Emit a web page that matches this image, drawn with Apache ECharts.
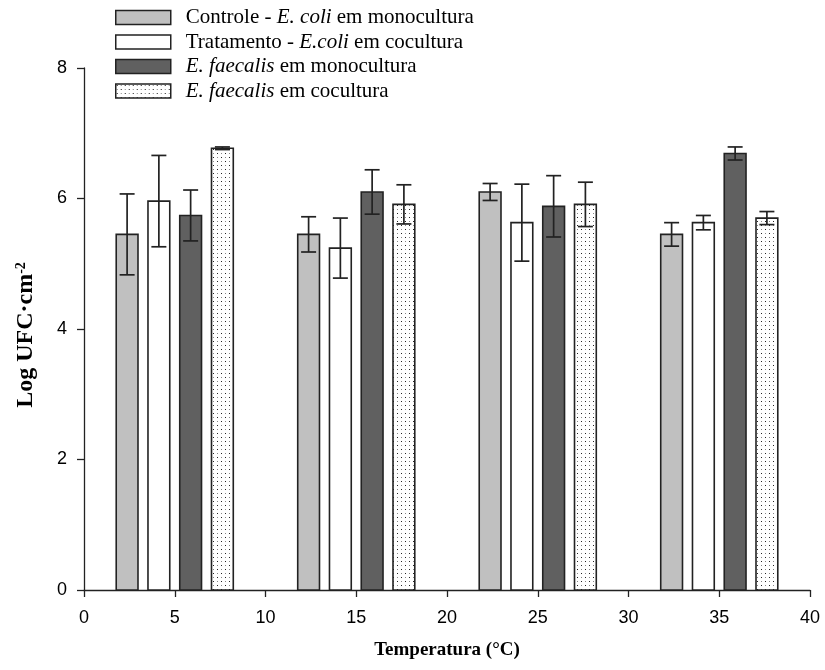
<!DOCTYPE html>
<html>
<head>
<meta charset="utf-8">
<script src="https://cdn.jsdelivr.net/npm/echarts@6/dist/echarts.min.js"></script>
<style>html,body{margin:0;padding:0;background:#fff}#c{width:825px;height:670px}</style>
</head>
<body>
<div id="c"></div>
<script>
// Data
var temperatures = [5, 15, 25, 35];
var seriesNames = [
  'Controle - E. coli em monocultura',
  'Tratamento - E.coli em cocultura',
  'E. faecalis em monocultura',
  'E. faecalis em cocultura'
];
var ecoliMono = [5.45, 5.45, 6.10, 5.45];
var ecoliMonoErr = [0.62, 0.27, 0.13, 0.18];
var ecoliCo = [5.96, 5.24, 5.63, 5.63];
var ecoliCoErr = [0.70, 0.46, 0.59, 0.11];
var faecalisMono = [5.74, 6.10, 5.88, 6.69];
var faecalisMonoErr = [0.39, 0.34, 0.47, 0.10];
var faecalisCo = [6.77, 5.91, 5.91, 5.70];
var faecalisCoErr = [0.02, 0.30, 0.34, 0.10];
var xTicks = [0, 5, 10, 15, 20, 25, 30, 35, 40];
var yTicks = [0, 2, 4, 6, 8];

// Layout helpers (offsets within a temperature group, in axis units)
var offsets = [-2.625, -0.875, 0.875, 2.625];
var barWidthUnits = 1.2;

function makePattern() {
  var c = document.createElement('canvas');
  c.width = 8; c.height = 8;
  var g = c.getContext('2d');
  g.fillStyle = '#ffffff'; g.fillRect(0, 0, 8, 8);
  g.fillStyle = '#222222';
  g.fillRect(1, 1, 1, 1);
  g.fillRect(5, 5, 1, 1);
  g.fillStyle = '#888888';
  g.fillRect(5, 1, 1, 1);
  g.fillRect(1, 5, 1, 1);
  return c;
}

var chart = echarts.init(document.getElementById('c'), null, {renderer: 'canvas'});
var values = [ecoliMono, ecoliCo, faecalisMono, faecalisCo];
var errs = [ecoliMonoErr, ecoliCoErr, faecalisMonoErr, faecalisCoErr];
var fills = ['#c0c0c0', '#ffffff', '#606060', {image: makePattern(), repeat: 'repeat'}];

var barSeries = values.map(function (vals, s) {
  return {
    name: seriesNames[s],
    type: 'custom',
    z: 2,
    itemStyle: {color: fills[s], borderColor: '#222', borderWidth: 1.5},
    encode: {x: 0, y: 1},
    data: temperatures.map(function (t, i) { return [t + offsets[s], vals[i]]; }),
    renderItem: function (params, api) {
      var x = api.value(0), y = api.value(1);
      var top = api.coord([x, y]);
      var base = api.coord([x, 0]);
      var w = api.size([barWidthUnits, 0])[0];
      return {
        type: 'rect',
        shape: {x: top[0] - w / 2, y: top[1], width: w, height: base[1] - top[1]},
        style: {fill: fills[s], stroke: '#222', lineWidth: 1.6}
      };
    }
  };
});

var errData = [];
values.forEach(function (vals, s) {
  temperatures.forEach(function (t, i) {
    errData.push([t + offsets[s], vals[i], errs[s][i]]);
  });
});

var errorSeries = {
  type: 'custom',
  name: 'err',
  z: 5,
  data: errData,
  encode: {x: 0, y: 1},
  renderItem: function (params, api) {
    var x = api.value(0), y = api.value(1), e = api.value(2);
    var hi = api.coord([x, y + e]);
    var lo = api.coord([x, y - e]);
    var cap = 7.5;
    var st = {stroke: '#222', lineWidth: 1.7};
    return {
      type: 'group',
      children: [
        {type: 'line', shape: {x1: hi[0], y1: hi[1], x2: lo[0], y2: lo[1]}, style: st},
        {type: 'line', shape: {x1: hi[0] - cap, y1: hi[1], x2: hi[0] + cap, y2: hi[1]}, style: st},
        {type: 'line', shape: {x1: lo[0] - cap, y1: lo[1], x2: lo[0] + cap, y2: lo[1]}, style: st}
      ]
    };
  }
};

var legendRich = {
  n: {fontFamily: 'Liberation Serif', fontSize: 21, lineHeight: 21, color: '#000'},
  i: {fontFamily: 'Liberation Serif', fontSize: 21, lineHeight: 21, fontStyle: 'italic', color: '#000'}
};
var legendText = [
  '{n|Controle - }{i|E. coli}{n| em monocultura}',
  '{n|Tratamento - }{i|E.coli}{n| em cocultura}',
  '{i|E. faecalis}{n| em monocultura}',
  '{i|E. faecalis}{n| em cocultura}'
];

chart.setOption({
  animation: false,
  backgroundColor: '#fff',
  legend: {
    orient: 'vertical',
    left: 110,
    top: 2,
    itemWidth: 55,
    itemHeight: 14,
    itemGap: 3.5,
    icon: 'rect',
    data: seriesNames.map(function (n, s) {
      return {name: n, itemStyle: {color: fills[s], borderColor: '#222', borderWidth: 1.5}};
    }),
    formatter: function (name) { return legendText[seriesNames.indexOf(name)]; },
    textStyle: {rich: legendRich, padding: [0, 0, 0, 10]},
    selectedMode: false
  },
  grid: {left: 84, right: 15, top: 68, bottom: 80},
  xAxis: {
    type: 'value',
    min: xTicks[0], max: xTicks[xTicks.length - 1], interval: 5,
    name: 'Temperatura (°C)',
    nameLocation: 'middle',
    nameGap: 51,
    nameTextStyle: {fontFamily: 'Liberation Serif', fontWeight: 'bold', fontSize: 19, color: '#000'},
    axisLine: {lineStyle: {color: '#222', width: 1.3}},
    axisTick: {length: 7, lineStyle: {color: '#222', width: 1.3}},
    axisLabel: {fontFamily: 'Liberation Sans', fontSize: 18, color: '#000', margin: 19},
    splitLine: {show: false}
  },
  yAxis: {
    type: 'value',
    min: yTicks[0], max: yTicks[yTicks.length - 1], interval: 2,
    name: '{b|Log UFC·cm}{s|-2}',
    nameLocation: 'middle',
    nameGap: 46,
    nameRotate: 90,
    nameTextStyle: {
      padding: [0, 12, 0, 0],
      rich: {
        b: {fontFamily: 'Liberation Serif', fontWeight: 'bold', fontSize: 24, color: '#000'},
        s: {fontFamily: 'Liberation Serif', fontWeight: 'bold', fontSize: 14, color: '#000', verticalAlign: 'top', padding: [0, 0, 10, 0]}
      }
    },
    axisLine: {show: true, lineStyle: {color: '#222', width: 1.3}},
    axisTick: {show: true, length: 7, lineStyle: {color: '#222', width: 1.3}},
    axisLabel: {fontFamily: 'Liberation Sans', fontSize: 18, color: '#000', margin: 17},
    splitLine: {show: false}
  },
  series: barSeries.concat([errorSeries])
});
</script>
</body>
</html>
